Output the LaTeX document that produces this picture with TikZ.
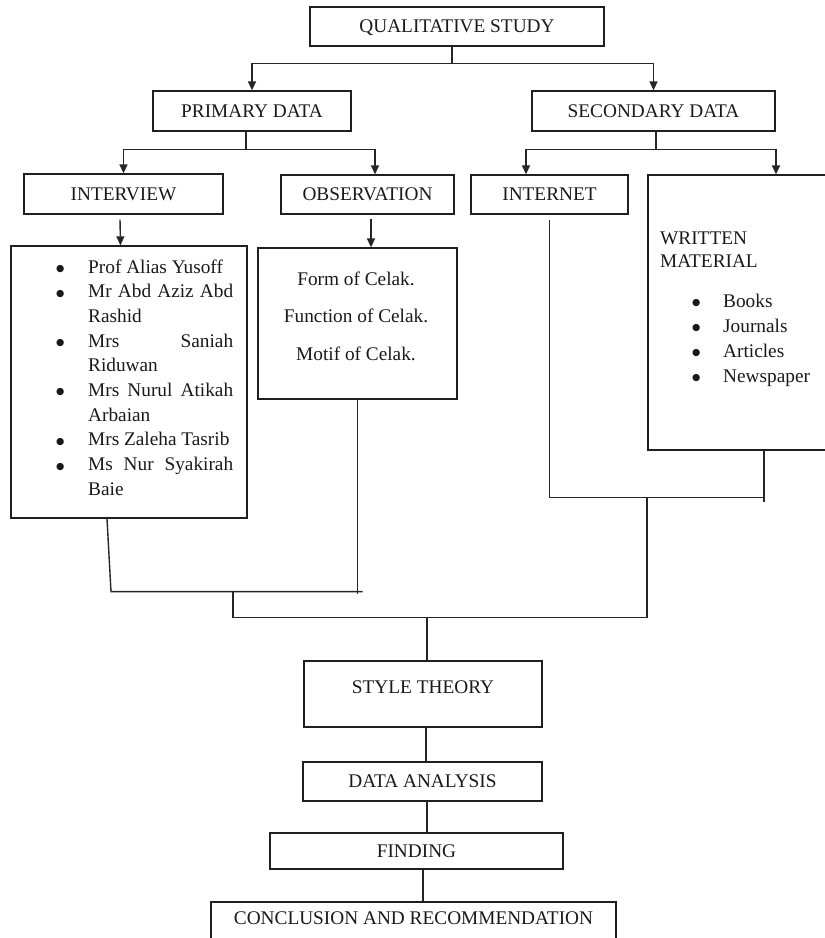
\documentclass[tikz,border=0pt]{standalone}
\usepackage{fontspec}
\setmainfont{Liberation Serif}
\newfontfamily\djv{DejaVu Sans}
\usetikzlibrary{arrows.meta,calc}
\newcommand\bigbul{\raisebox{1.6pt}{\djv\fontsize{9.5}{10}\selectfont ●}}
\newcommand\bitem[1]{\hbox{\hbox to 32pt{\bigbul\hfil}\hbox to 145pt{#1}}}
\newcommand\bcont[1]{\hbox{\hskip 32pt\hbox to 145pt{#1}}}
\newcommand\citem[1]{\hbox{\hskip 32pt\hbox to 31pt{\bigbul\hfil}#1}}
\newcommand\ctrline[1]{\hbox to 160pt{\hfil #1\hfil}}
\begin{document}
\begin{tikzpicture}[x=1pt,y=-1pt,
  every node/.style={font=\fontsize{19.3}{24.7}\selectfont, text=black!90},
  box/.style={draw=black!88, line width=1.3pt, inner sep=0pt, text height=12.7pt, text depth=0pt},
  txt/.style={inner sep=0pt},
  conn/.style={draw=black!85, line width=1.4pt},
  arr/.style={conn, -{Triangle[length=9pt,width=8pt]}}
]
\useasboundingbox (0,0) rectangle (825,938);
\clip (0,0) rectangle (825,938);

% boxes
\node[box, minimum width=294pt, minimum height=39pt] (qual) at (457,26.5) {QUALITATIVE STUDY};
\node[box, minimum width=198pt, minimum height=40pt] (primary) at (252,111) {PRIMARY DATA};
\node[box, minimum width=243pt, minimum height=40pt] (secondary) at (653.5,111) {SECONDARY DATA};
\node[box, minimum width=199pt, minimum height=40pt] (interview) at (123.5,194) {INTERVIEW};
\node[box, minimum width=173pt, minimum height=39pt] (observation) at (367.5,194.5) {OBSERVATION};
\node[box, minimum width=157pt, minimum height=39pt] (internet) at (549.5,194.5) {INTERNET};
\node[box, minimum width=252pt, minimum height=275pt] (written) at (774,312.5) {};
\node[box, minimum width=236pt, minimum height=272pt] (ilist) at (129,382) {};
\node[box, minimum width=199pt, minimum height=151pt] (obox) at (357.5,323.5) {};
\node[box, minimum width=238pt, minimum height=66pt, text depth=14pt] (style) at (423,694) {STYLE THEORY};
\node[box, minimum width=239pt, minimum height=39pt] (data) at (422.5,781.5) {DATA ANALYSIS};
\node[box, minimum width=293pt, minimum height=36pt] (finding) at (416.5,851) {FINDING};
\node[box, minimum width=405pt, minimum height=48pt, text depth=15.9pt] (conclusion) at (413.5,926) {CONCLUSION AND RECOMMENDATION};

% box contents
\node[txt, anchor=base west] (ilistT) at (56,273) {\vtop{\baselineskip=24.7pt\lineskiplimit=-100pt
  \bitem{Prof Alias Yusoff\hfil}
  \bitem{Mr Abd Aziz Abd}
  \bcont{Rashid\hfil}
  \bitem{Mrs Saniah}
  \bcont{Riduwan\hfil}
  \bitem{Mrs Nurul Atikah}
  \bcont{Arbaian\hfil}
  \bitem{Mrs Zaleha Tasrib\hfil}
  \bitem{Ms Nur Syakirah}
  \bcont{Baie\hfil}}};
\node[txt, anchor=base] (oboxT) at (356,285) {\vtop{\baselineskip=37.5pt\lineskiplimit=-100pt
  \ctrline{Form of Celak.}
  \ctrline{Function of Celak.}
  \ctrline{Motif of Celak.}}};
\node[txt, anchor=base west] (writtenT) at (660,244) {\vtop{\baselineskip=25pt\lineskiplimit=-100pt
  \hbox{WRITTEN}\vskip-2pt
  \hbox{MATERIAL}\vskip15pt
  \citem{Books}
  \citem{Journals}
  \citem{Articles}
  \citem{Newspaper}}};

% top level split
\coordinate (j1) at ($(qual.south)+(-5,17)$);
\draw[conn] ($(qual.south)+(-5,0)$) -- (j1);
\draw[arr] (j1) -| (primary.north);
\draw[arr] (j1) -| (secondary.north);

% primary split
\coordinate (j2) at ($(primary.south)+(-6,18)$);
\draw[conn] ($(primary.south)+(-6,0)$) -- (j2);
\draw[arr] (j2) -| (interview.north);
\draw[arr] (j2) -| ($(observation.north)+(7.5,0)$);

% secondary split
\coordinate (j3) at ($(secondary.south)+(2.5,18)$);
\draw[conn] ($(secondary.south)+(2.5,0)$) -- (j3);
\draw[arr] (j3) -| ($(internet.north)+(-23.5,0)$);
\draw[arr] (j3) -| ($(written.north)+(2,0)$);

% into detail boxes
\draw[arr] ($(interview.south)+(-3.5,5)$) -- ($(ilist.north)+(-8.5,0)$);
\draw[arr] ($(observation.south)+(3.5,4)$) -- ($(obox.north)+(13.5,0)$);

% right merge
\coordinate (rj) at ($(written.south)+(-10,47)$);
\draw[conn] ($(internet.south)+(0,5)$) |- (rj);
\draw[conn] ($(written.south)+(-10,0)$) -- ($(written.south)+(-10,51)$);

% left merge
\coordinate (lj) at ($(obox.south)+(0,192)$);
\draw[conn] ($(ilist.south)+(-22,0)$) -- ($(ilist.south)+(-18,73)$) -- ($(lj)+(5,0)$);
\draw[conn] (obox.south) -- ($(obox.south)+(0,194)$);

% central merge
\coordinate (lm) at ($(ilist.south)+(104,73)$);
\coordinate (rm) at ($(rj)+(-117,0)$);
\coordinate (cj) at ($(style.north)+(4,-43)$);
\draw[conn] (lm) |- (cj) -| (rm);
\draw[conn] (cj) -- (cj |- style.north);

% chain
\draw[conn] ($(style.south)+(3,0)$) -- ($(data.north)+(3.5,0)$);
\draw[conn] ($(data.south)+(4.5,0)$) -- ($(finding.north)+(10.5,0)$);
\draw[conn] ($(finding.south)+(6.5,0)$) -- ($(conclusion.north)+(9.5,0)$);
\end{tikzpicture}
\end{document}
